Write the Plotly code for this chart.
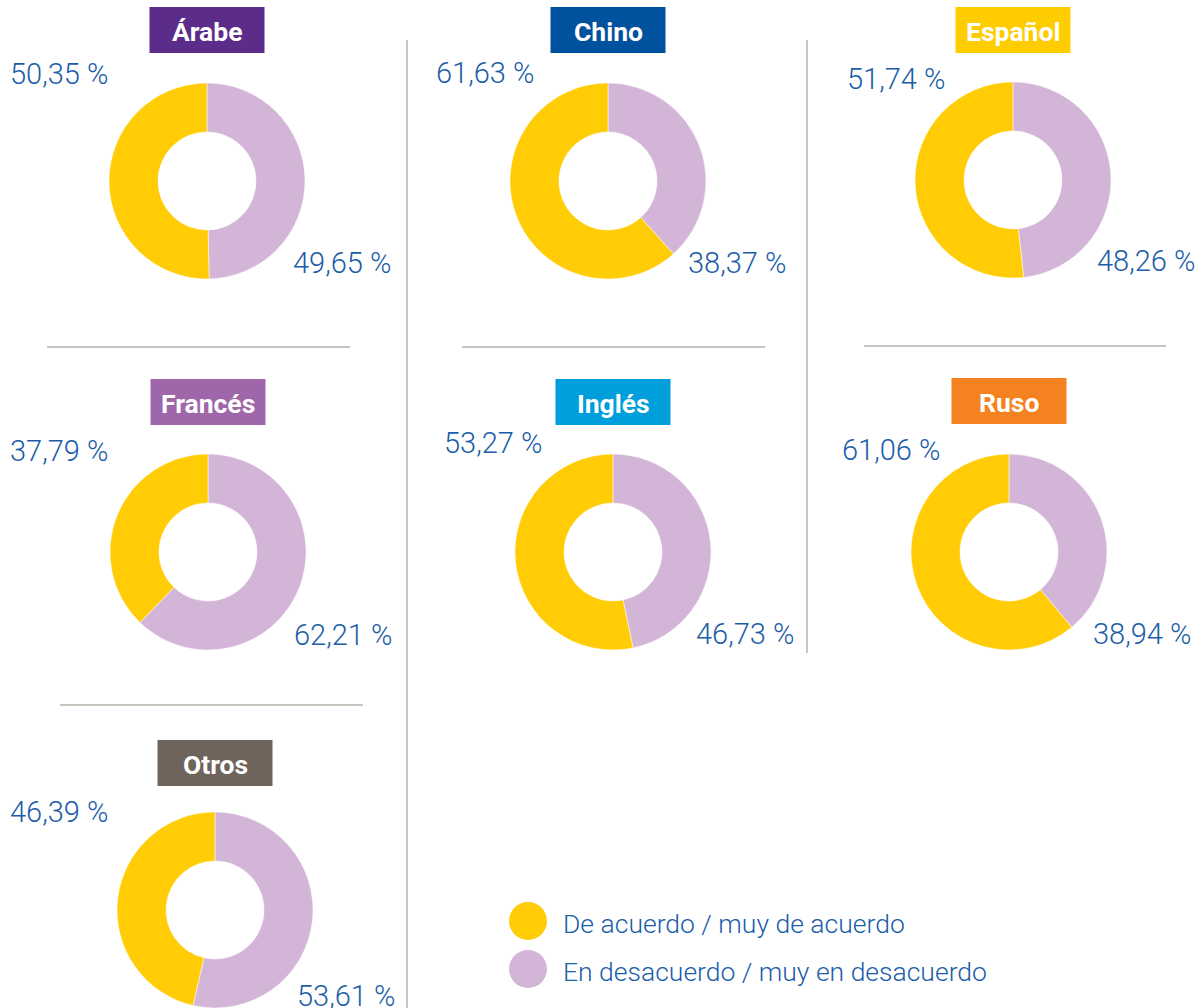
import plotly.graph_objects as go

# Data
languages = ['Árabe', 'Chino', 'Español', 'Francés', 'Inglés', 'Ruso', 'Otros']
de_acuerdo = [50.35, 61.63, 51.74, 37.79, 53.27, 61.06, 46.39]
en_desacuerdo = [49.65, 38.37, 48.26, 62.21, 46.73, 38.94, 53.61]
legend_labels = ['De acuerdo / muy de acuerdo', 'En desacuerdo / muy en desacuerdo']

# Layout (pixel positions)
W, H = 1200, 1008
centers = [(207, 181), (608, 181), (1013, 180), (208, 552), (613, 552), (1009, 552), (215, 910)]
box_colors = ['#5B2C8A', '#00519E', '#FFCC00', '#A066AA', '#009EDB', '#F58220', '#6F645C']
title_y = [30, 30, 30, 402, 402, 401, 763]
top_label = [(110, 74), (536, 73), (947, 79), (110, 451), (544, 443), (942, 450), (110, 812)]
bot_label = [(291, 263), (686, 263), (1095, 261), (292, 635), (694, 634), (1091, 634), (295, 996)]

YELLOW = '#FFCC05'
LILAC = '#D3B5D7'
BLUE = '#1B5DA8'
SEP = '#B9B2AA'
R = 98


def px(x):
    return x / W


def py(y):
    return 1 - y / H


def fmt(v):
    return f'{v:.2f}'.replace('.', ',') + ' %'


fig = go.Figure()
shapes = []
annotations = []

for i, lang in enumerate(languages):
    cx, cy = centers[i]
    # disagree slice first, clockwise from 12 o'clock -> lands on the right
    fig.add_trace(go.Pie(
        values=[en_desacuerdo[i], de_acuerdo[i]],
        labels=[legend_labels[1], legend_labels[0]],
        marker=dict(colors=[LILAC, YELLOW], line=dict(color='white', width=0.5)),
        hole=0.5,
        sort=False,
        direction='clockwise',
        rotation=0,
        textinfo='none',
        hoverinfo='label+percent',
        showlegend=False,
        domain=dict(x=[px(cx - R), px(cx + R)],
                    y=[max(0, py(cy + R)), py(cy - R)]),
    ))

    # title box
    ty = title_y[i]
    shapes.append(dict(type='rect', xref='paper', yref='paper',
                       x0=px(cx - 57.5), x1=px(cx + 57.5),
                       y0=py(ty + 23), y1=py(ty - 23),
                       fillcolor=box_colors[i], line=dict(width=0), layer='below'))
    annotations.append(dict(x=px(cx), y=py(ty + 1), xref='paper', yref='paper',
                            text=lang, showarrow=False, xanchor='center', yanchor='middle',
                            font=dict(family='Roboto', size=26.5, color='white', weight='bold')))

    # percentage labels
    tx, tly = top_label[i]
    annotations.append(dict(x=px(tx), y=py(tly), xref='paper', yref='paper',
                            text=fmt(de_acuerdo[i]), showarrow=False,
                            xanchor='right', yanchor='middle',
                            font=dict(family='Roboto', size=29, color=BLUE, weight=300)))
    bx, bly = bot_label[i]
    annotations.append(dict(x=px(bx), y=py(bly), xref='paper', yref='paper',
                            text=fmt(en_desacuerdo[i]), showarrow=False,
                            xanchor='left', yanchor='middle',
                            font=dict(family='Roboto', size=29, color=BLUE, weight=300)))

# separators
seps = [
    (407, 40, 407, 1008),
    (807, 40, 807, 653),
    (47, 347, 350, 347),
    (462, 347, 765, 347),
    (864, 346, 1166, 346),
    (60, 705, 363, 705),
]
for x0, y0, x1, y1 in seps:
    shapes.append(dict(type='line', xref='paper', yref='paper',
                       x0=px(x0), y0=py(y0), x1=px(x1), y1=py(y1),
                       line=dict(color=SEP, width=1.5)))

# legend
leg_y = [921, 969]
for lbl, col, ly in zip(legend_labels, [YELLOW, LILAC], leg_y):
    shapes.append(dict(type='circle', xref='paper', yref='paper',
                       x0=px(528 - 19), x1=px(528 + 19),
                       y0=py(ly + 19), y1=py(ly - 19),
                       fillcolor=col, line=dict(width=0)))
    annotations.append(dict(x=px(561), y=py(ly + 2), xref='paper', yref='paper',
                            text=lbl, showarrow=False, xanchor='left', yanchor='middle',
                            font=dict(family='Roboto', size=26.5, color=BLUE, weight=300)))

fig.update_layout(
    width=W,
    height=H,
    margin=dict(l=0, r=0, t=0, b=0),
    paper_bgcolor='white',
    plot_bgcolor='white',
    shapes=shapes,
    annotations=annotations,
    showlegend=False,
)

fig.write_html('out.html', config={'displayModeBar': False},
               post_script="document.body.style.margin='0';")
